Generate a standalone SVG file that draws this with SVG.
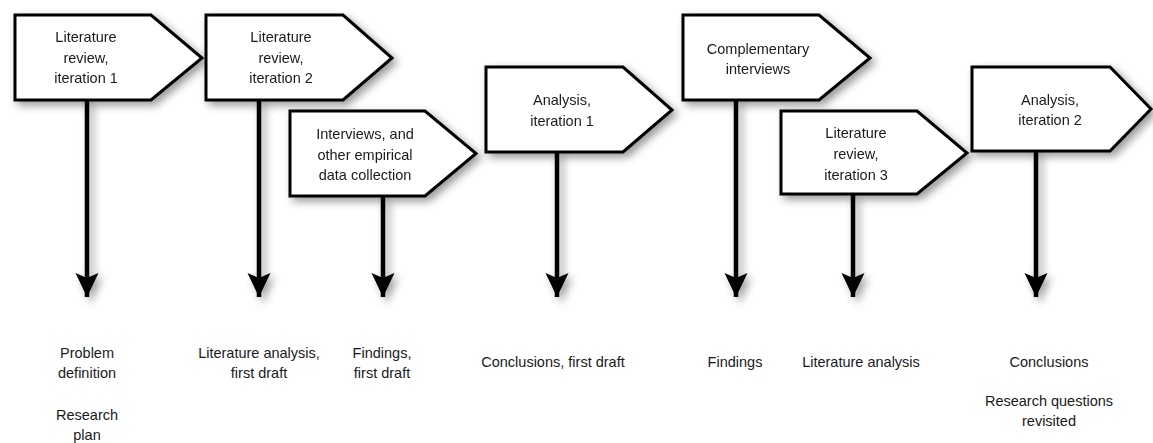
<svg xmlns="http://www.w3.org/2000/svg" width="1153" height="443" viewBox="0 0 1153 443">
  <style>
    .box { fill: #ffffff; stroke: #000000; stroke-width: 3; stroke-linejoin: miter; }
    .stem { stroke: #000000; stroke-width: 4.5; fill: none; marker-end: url(#head); }
    text { font-family: "Liberation Sans", Arial, sans-serif; font-size: 14.5px; fill: #1a1a1a; text-anchor: middle; }
  </style>
  <defs>
    <filter id="shade" x="-20%" y="-20%" width="150%" height="150%">
      <feDropShadow dx="4" dy="4" stdDeviation="4" flood-color="#000000" flood-opacity="0.4"/>
    </filter>
    <marker id="head" markerUnits="userSpaceOnUse" markerWidth="26" markerHeight="24" viewBox="0 0 26 24" refX="24" refY="11.5" orient="auto">
      <path d="M0,0 L24,11.5 L0,23 L5,11.5 Z" fill="#000000"/>
    </marker>
  </defs>
  <rect width="1153" height="443" fill="#ffffff"/>

  <!-- downward connectors from each stage -->
  <g id="connectors" filter="url(#shade)">
    <line class="stem" x1="87" y1="100" x2="87" y2="297"/>
    <line class="stem" x1="259" y1="100" x2="259" y2="297"/>
    <line class="stem" x1="383" y1="196" x2="383" y2="297"/>
    <line class="stem" x1="557" y1="152" x2="557" y2="297"/>
    <line class="stem" x1="736" y1="100" x2="736" y2="297"/>
    <line class="stem" x1="853" y1="194" x2="853" y2="297"/>
    <line class="stem" x1="1036" y1="151" x2="1036" y2="297"/>
  </g>

  <!-- stage signposts -->
  <g id="lit-review-1" filter="url(#shade)">
    <path class="box" d="M15,15 L151,15 L202,58 L151,100 L15,100 Z"/>
    <text x="86" y="42">Literature</text>
    <text x="86" y="63">review,</text>
    <text x="86" y="83">iteration 1</text>
  </g>
  <g id="lit-review-2" filter="url(#shade)">
    <path class="box" d="M206,15 L343,15 L392,58 L343,100 L206,100 Z"/>
    <text x="281" y="42">Literature</text>
    <text x="281" y="63">review,</text>
    <text x="281" y="83">iteration 2</text>
  </g>
  <g id="interviews" filter="url(#shade)">
    <path class="box" d="M290,111 L425,111 L476,153.5 L425,196 L290,196 Z"/>
    <text x="365" y="139">Interviews, and</text>
    <text x="365" y="160">other empirical</text>
    <text x="365" y="180">data collection</text>
  </g>
  <g id="analysis-1" filter="url(#shade)">
    <path class="box" d="M486,67 L623,67 L672,110 L623,152 L486,152 Z"/>
    <text x="562" y="105">Analysis,</text>
    <text x="562" y="126">iteration 1</text>
  </g>
  <g id="complementary" filter="url(#shade)">
    <path class="box" d="M683,15 L819,15 L870,58 L819,100 L683,100 Z"/>
    <text x="758" y="54">Complementary</text>
    <text x="758" y="74">interviews</text>
  </g>
  <g id="lit-review-3" filter="url(#shade)">
    <path class="box" d="M781,111 L917,111 L967,153 L917,194 L781,194 Z"/>
    <text x="856" y="138">Literature</text>
    <text x="856" y="159">review,</text>
    <text x="856" y="180">iteration 3</text>
  </g>
  <g id="analysis-2" filter="url(#shade)">
    <path class="box" d="M972,67 L1110,67 L1151,109 L1110,151 L972,151 Z"/>
    <text x="1050" y="105">Analysis,</text>
    <text x="1050" y="125">iteration 2</text>
  </g>

  <!-- outputs of each stage -->
  <g id="out-problem">
    <text x="87" y="358">Problem</text>
    <text x="87" y="378">definition</text>
    <text x="87" y="420">Research</text>
    <text x="87" y="440">plan</text>
  </g>
  <g id="out-lit-analysis-draft">
    <text x="259" y="358">Literature analysis,</text>
    <text x="259" y="378">first draft</text>
  </g>
  <g id="out-findings-draft">
    <text x="382" y="358">Findings,</text>
    <text x="382" y="378">first draft</text>
  </g>
  <g id="out-conclusions-draft">
    <text x="553" y="367">Conclusions, first draft</text>
  </g>
  <g id="out-findings">
    <text x="735" y="367">Findings</text>
  </g>
  <g id="out-lit-analysis">
    <text x="861" y="367">Literature analysis</text>
  </g>
  <g id="out-conclusions">
    <text x="1049" y="367">Conclusions</text>
    <text x="1049" y="406">Research questions</text>
    <text x="1049" y="426">revisited</text>
  </g>
</svg>
